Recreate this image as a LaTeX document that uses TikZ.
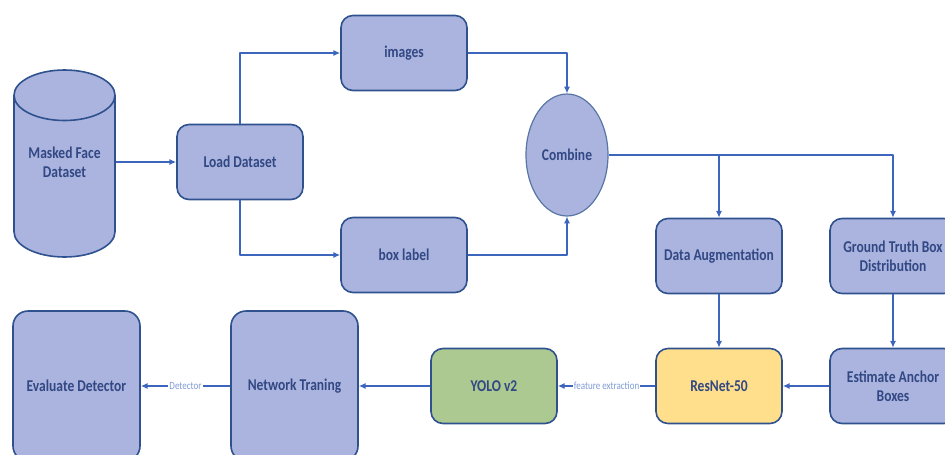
\documentclass[tikz,border=0pt]{standalone}
\usepackage{fontspec}
\setmainfont{Carlito}[FakeStretch=0.82]
\usetikzlibrary{calc,positioning,arrows.meta,shapes.geometric}
\definecolor{flowfill}{RGB}{170,180,222}
\definecolor{flowedge}{RGB}{47,82,143}
\definecolor{flowline}{RGB}{60,102,190}
\definecolor{flowtext}{RGB}{50,72,132}
\definecolor{yolofill}{RGB}{171,201,145}
\definecolor{resfill}{RGB}{255,222,140}
\newcommand{\flowarrowstyle}{-{Latex[length=2.4mm,width=2.2mm]}}

\begin{document}
\begin{tikzpicture}[
    x=1pt, y=-1pt,
    font=\fontsize{16.5}{19}\selectfont\bfseries,
    sig/.style={\flowarrowstyle, draw=flowline, line width=1.5pt, line join=round},
    proc/.style={draw=flowedge, fill=flowfill, text=flowtext, line width=1.6pt, rounded corners=12pt,
                 minimum width=126pt, minimum height=75pt, inner sep=0pt, align=center},
    tallbox/.style={proc, minimum width=127pt, minimum height=150pt, rounded corners=15pt},
    combiner/.style={ellipse, draw=flowedge!80, fill=flowfill, text=flowtext, line width=1.2pt,
                     minimum width=82pt, minimum height=122pt, inner sep=0pt},
    store/.style={cylinder, shape border rotate=90, aspect=0.7, draw=flowedge, fill=flowfill, align=center,
                  line width=1.6pt, minimum width=101pt, minimum height=187pt, inner sep=0pt},
    storetext/.style={text=flowtext, align=center, inner sep=0pt},
    edgelabel/.style={font=\fontsize{11}{12}\selectfont\mdseries, text=flowline!65, fill=white, inner sep=1pt}
]
  \useasboundingbox (0,0) rectangle (945,455);

  % top half
  \node[store, anchor=shape center] (dataset) at (64.5,163.5) {\phantom{Masked Face}\\\phantom{Dataset}};
  \node[storetext] (datasetname) at (64.5,162) {Masked Face\\Dataset};
  \node[proc] (load) at (240,162) {Load Dataset};
  \node[proc] (images) at (404,53) {images};
  \node[proc] (boxlabel) at (404,255) {box label};
  \node[combiner] (combine) at (567,155) {Combine};
  \node[proc] (augment) at (719,256) {Data Augmentation};
  \node[proc] (gtbox) at (893,256) {Ground Truth Box\\Distribution};

  % bottom row
  \node[proc] (anchor) at (893,386) {Estimate Anchor\\Boxes};
  \node[proc, fill=resfill] (resnet) at (719,386) {ResNet-50};
  \node[proc, fill=yolofill] (yolo) at (494,386) {YOLO v2};
  \node[tallbox] (training) at (294.5,386) {Network Traning};
  \node[tallbox] (evaluate) at (76.5,386) {Evaluate Detector};

  \coordinate (split) at (augment.north |- combine.east);

  \draw[sig] (dataset.east |- load.west) -- (load.west);
  \draw[sig] (load.north) |- (images.west);
  \draw[sig] (load.south) |- (boxlabel.west);
  \draw[sig] (images.east) -| (combine.north);
  \draw[sig] (boxlabel.east) -| (combine.south);
  \draw[sig] (combine.east) -| (gtbox.north);
  \draw[sig] (split) -- (augment.north);
  \draw[sig] (augment.south) -- (resnet.north);
  \draw[sig] (gtbox.south) -- (anchor.north);
  \draw[sig] (anchor.west) -- (resnet.east);
  \draw[sig] (resnet.west) -- node[edgelabel] {feature extraction} (yolo.east);
  \draw[sig] (yolo.west) -- (training.east);
  \draw[sig] (training.west) -- node[edgelabel] {Detector} (evaluate.east);
\end{tikzpicture}
\end{document}
